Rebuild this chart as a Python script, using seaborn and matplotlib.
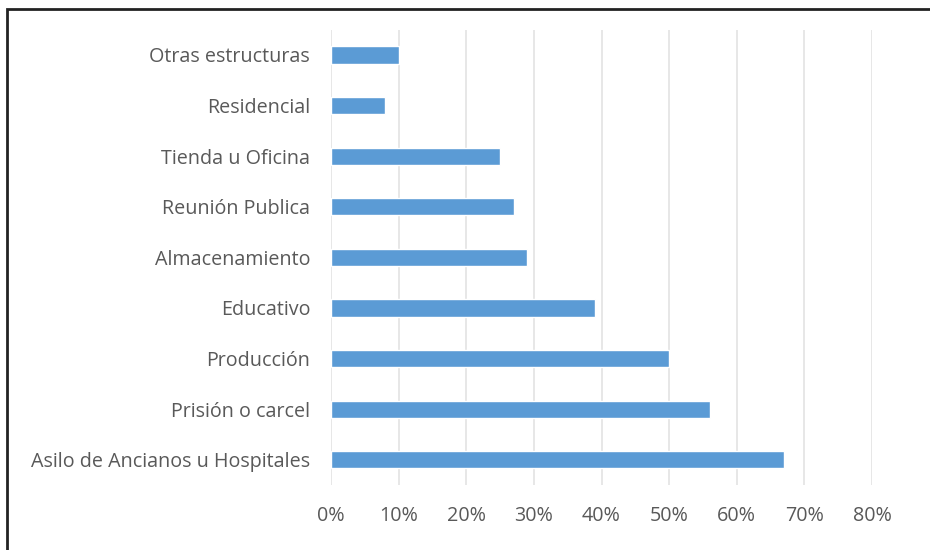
import matplotlib
matplotlib.use("Agg")
import matplotlib.pyplot as plt
import seaborn as sns
import pandas as pd
from matplotlib.ticker import PercentFormatter
from matplotlib.patches import Rectangle

# Data (share of structures, %)
categorias = ["Otras estructuras", "Residencial", "Tienda u Oficina", "Reunión Publica",
              "Almacenamiento", "Educativo", "Producción", "Prisión o carcel",
              "Asilo de Ancianos u Hospitales"]
valores = [10, 8, 25, 27, 29, 39, 50, 56, 67]
ticks = [0, 10, 20, 30, 40, 50, 60, 70, 80]

df = pd.DataFrame({"categoria": categorias, "valor": [v / 100 for v in valores]})

sns.set_style("white")
plt.rcParams["font.family"] = ["Open Sans", "DejaVu Sans"]

fig = plt.figure(figsize=(9.3, 5.5), dpi=100)
ax = fig.add_axes([331 / 930, 1 - 485 / 550, (872 - 331) / 930, (485 - 29.7) / 550])

sns.barplot(data=df, y="categoria", x="valor", orient="h", color="#5B9BD5",
            width=0.34, saturation=1, ax=ax, zorder=3)

ax.set_xlim(0, 0.8)
ax.set_xticks([t / 100 for t in ticks])
ax.xaxis.set_major_formatter(PercentFormatter(1.0, decimals=0))
ax.grid(axis="x", color="#E3E3E3", linewidth=1.2, zorder=0)
ax.set_axisbelow(True)
for s in ax.spines.values():
    s.set_visible(False)
ax.set_xlabel("")
ax.set_ylabel("")
ax.tick_params(axis="both", length=0, labelsize=14.2, colors="#595959")
ax.tick_params(axis="x", pad=15)
ax.tick_params(axis="y", pad=15)

# frame around the picture (only left and top edges visible)
fig.patches.append(Rectangle((7 / 930, -0.2), 1.2, 1.2 - 9 / 550, transform=fig.transFigure,
                             fill=False, edgecolor="#222222", linewidth=2))

fig.savefig("out.png", dpi=100)
